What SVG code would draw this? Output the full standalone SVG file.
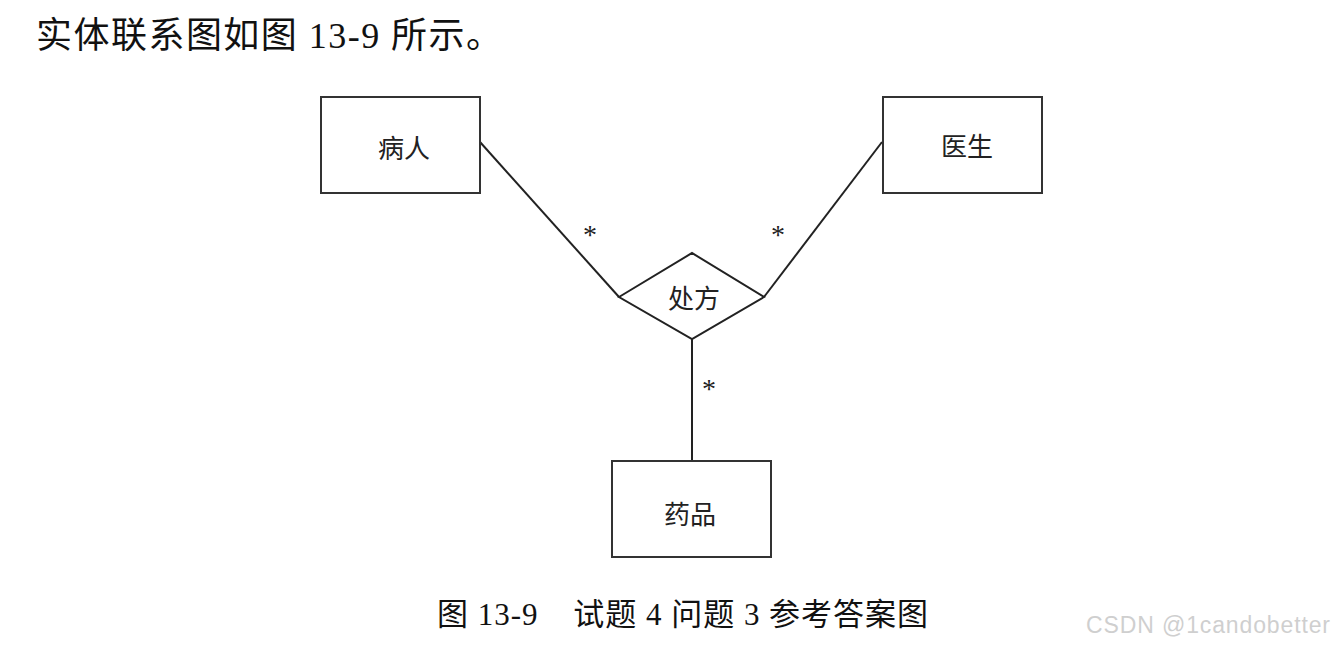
<svg xmlns="http://www.w3.org/2000/svg" width="1334" height="646" viewBox="0 0 1334 646">
<style>
.box{fill:#fff;stroke:#333;stroke-width:2}
.ln{fill:none;stroke:#222;stroke-width:2}
.lbl{font-family:"Noto Sans CJK SC",sans-serif;font-size:26px;fill:#222;text-anchor:middle}
.serif{font-family:"Liberation Serif","Noto Sans CJK SC",serif;fill:#111}
.star{font-family:"Liberation Serif",serif;font-size:28px;fill:#222;text-anchor:middle}
</style>
<rect width="1334" height="646" fill="#fff"/>
<text class="serif" x="36" y="48" font-size="36" textLength="466" lengthAdjust="spacing">实体联系图如图 13-9 所示。</text>
<g id="connectors">
<line class="ln" x1="480" y1="142" x2="619" y2="297"/>
<line class="ln" x1="882" y1="142" x2="764" y2="297"/>
<line class="ln" x1="692" y1="339" x2="692" y2="461"/>
<text class="star" x="590" y="244">*</text>
<text class="star" x="778" y="244">*</text>
<text class="star" x="709" y="398">*</text>
</g>
<g id="patient">
<rect class="box" x="321" y="97" width="159" height="96"/>
<text class="lbl" x="404" y="158">病人</text>
</g>
<g id="doctor">
<rect class="box" x="883" y="97" width="159" height="96"/>
<text class="lbl" x="967" y="156">医生</text>
</g>
<g id="prescription">
<polygon class="ln" points="619,297 692,253 764,297 692,339"/>
<text class="lbl" x="694" y="308">处方</text>
</g>
<g id="medicine">
<rect class="box" x="612" y="461" width="159" height="96"/>
<text class="lbl" x="690" y="524">药品</text>
</g>
<text class="serif" x="437" y="625" font-size="31" xml:space="preserve" textLength="491" lengthAdjust="spacing">图 13-9    试题 4 问题 3 参考答案图</text>
<text x="1086" y="633" font-family="Liberation Sans,Arial,sans-serif" font-size="23" fill="#cfcfcf" textLength="244" lengthAdjust="spacing">CSDN @1candobetter</text>
</svg>
